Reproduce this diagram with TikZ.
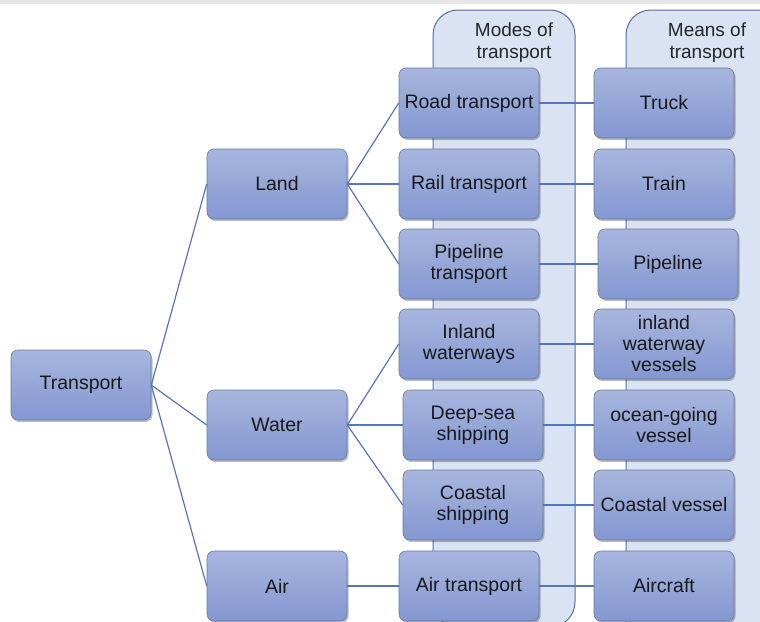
\documentclass[tikz,border=0pt]{standalone}
\usepackage{fontspec}
\setmainfont{Liberation Sans}
\usetikzlibrary{shadows}
\definecolor{boxtop}{HTML}{A8B6DE}
\definecolor{boxbot}{HTML}{8397D1}
\definecolor{boxedge}{HTML}{6A7A9A}
\definecolor{linkblue}{HTML}{5676B9}
\definecolor{panelfill}{HTML}{D9E3F3}
\definecolor{paneledge}{HTML}{4F6FA8}
\definecolor{band}{HTML}{E6E6E6}
\tikzset{
  item/.style={draw=boxedge, line width=0.6pt, rounded corners=7pt,
    top color=boxtop, bottom color=boxbot,
    minimum width=140pt, minimum height=70pt, inner sep=2pt,
    align=center, text=black!90, font=\fontsize{19.5}{21}\selectfont,
    drop shadow={shadow xshift=1.5pt, shadow yshift=-2pt, opacity=0.25, fill=black}},
  link/.style={draw=linkblue, line width=1.2pt},
  panel/.style={draw=paneledge, fill=panelfill, line width=1pt, rounded corners=25pt},
  header/.style={align=center, text=black!85, font=\fontsize{19}{22}\selectfont, inner sep=0pt}
}
\begin{document}
\begin{tikzpicture}[x=1pt,y=-1pt]
\useasboundingbox (0,0) rectangle (760,621);
\clip (0,0) rectangle (760,621);
\fill[band] (0,0) rectangle (760,4);

% column panels
\path[panel] (433,10) rectangle (575,627);
\path[panel] (626,10) rectangle (800,660);
\node[header] (hmodes) at (514,43) {Modes of\\transport};
\node[header] (hmeans) at (707,43) {Means of\\transport};

% tree
\node[item] (transport) at (81,385) {Transport};
\node[item] (land)  at (277,184) {Land};
\node[item] (water) at (277,425) {Water};
\node[item] (air)   at (277,586) {Air};

\node[item] (road)     at (469,103) {Road transport};
\node[item] (rail)     at (469,184) {Rail transport};
\node[item] (pipe)     at (469,264) {Pipeline\\transport};
\node[item] (inland)   at (469,344) {Inland\\waterways};
\node[item] (deepsea)  at (473,425) {Deep-sea\\shipping};
\node[item] (coastal)  at (473,505) {Coastal\\shipping};
\node[item] (airtr)    at (469,586) {Air transport};

\node[item] (truck)    at (664,103) {Truck};
\node[item] (train)    at (664,184) {Train};
\node[item] (pipeline) at (668,264) {Pipeline};
\node[item] (iwv)      at (664,344) {inland\\waterway\\vessels};
\node[item] (ocean)    at (664,425) {ocean-going\\vessel};
\node[item] (cvessel)  at (664,505) {Coastal vessel};
\node[item] (aircraft) at (664,586) {Aircraft};

% connectors
\foreach \a/\b in {transport/land, transport/water, transport/air,
  land/road, land/rail, land/pipe,
  water/inland, water/deepsea, water/coastal, air/airtr,
  road/truck, rail/train, pipe/pipeline, inland/iwv,
  deepsea/ocean, coastal/cvessel, airtr/aircraft}
  \draw[link] (\a.east) -- (\b.west);
\end{tikzpicture}
\end{document}
